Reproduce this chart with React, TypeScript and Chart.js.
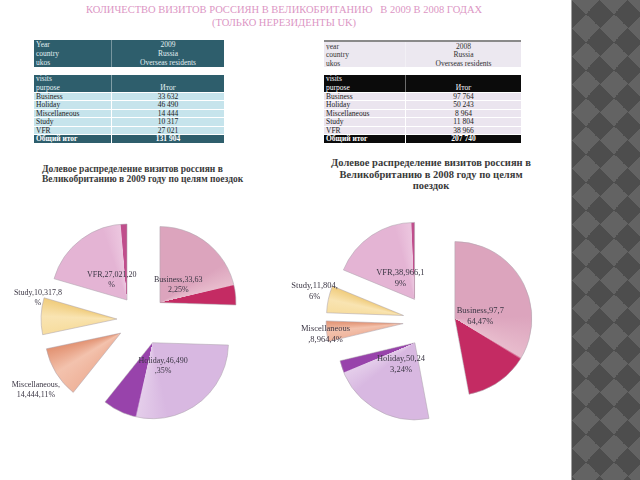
import React, { useEffect, useRef } from 'react';
import { Chart, registerables } from 'chart.js';

Chart.register(...registerables);

const categories = ['Business', 'Holiday', 'Miscellaneous', 'Study', 'VFR'];
const visits2009 = [33632, 46490, 14444, 10317, 27021];
const visits2008 = [97764, 50243, 8964, 11804, 38966];
const total2009 = '131 904';
const total2008 = '207 740';
const wrap2009 = [14, 14, 14, 14, 13];
const wrap2008 = [13, 13, 13, 13, 12];

const lightColors = ['#dca4bd', '#d8b8e1', '#efb49c', '#f7dd9f', '#e4b4d4'];
const highColors = ['#e8bccd', '#e4cdea', '#f3c2ad', '#f9e4b2', '#ecc6df'];
const darkColors = ['#c42b63', '#9843ab', '#e29272', '#f0cc7c', '#c04e8c'];
const darkStart2009 = [0.84, 0.8, 1, 1, 0.94];
const darkStart2008 = [0.72, 0.9, 1, 1, 0.97];
const labelFactor2009 = [0, 0, 1.64, 1.37, 0];
const labelNudge2009 = [0, 0, 5, -18, 0];
const labelFactor2008 = [0, 0, 1.35, 1.52, 0];
const labelNudge2008 = [0, 0, 3, -5, 0];

const fmt = (n: number) => String(n).replace(/\B(?=(\d{3})+(?!\d))/g, ' ');

function sliceFill(values: number[], darkStart: number[], offset: number) {
  return (ctx: any) => {
    const i = ctx.dataIndex;
    const chart = ctx.chart;
    const area = chart.chartArea;
    const c2d = chart.ctx;
    if (!area || i == null || typeof c2d.createConicGradient !== 'function') return lightColors[i ?? 0];
    const total = values.reduce((a, b) => a + b, 0);
    let cum = 0;
    for (let k = 0; k < i; k++) cum += values[k];
    const f = values[i] / total;
    const start = -Math.PI / 2 + (2 * Math.PI * cum) / total;
    const mid = start + Math.PI * f;
    const cx = (area.left + area.right) / 2 + Math.cos(mid) * offset;
    const cy = (area.top + area.bottom) / 2 + Math.sin(mid) * offset;
    const g = c2d.createConicGradient(start, cx, cy);
    const ds = darkStart[i];
    g.addColorStop(0, lightColors[i]);
    if (ds < 1) {
      g.addColorStop(f * (ds - 0.2), lightColors[i]);
      g.addColorStop(f * (ds - 0.01), highColors[i]);
      g.addColorStop(f * ds, darkColors[i]);
      g.addColorStop(f, darkColors[i]);
    } else {
      g.addColorStop(f * 0.5, highColors[i]);
      g.addColorStop(f, darkColors[i]);
    }
    g.addColorStop(Math.min(1, f + 0.0005), lightColors[i]);
    g.addColorStop(1, lightColors[i]);
    return g;
  };
}

// Explodes each slice outward along its mid angle by `offset` px (keeps radius unchanged)
function makeExplodePlugin(offset: number) {
  return {
    id: 'explode',
    afterDatasetUpdate(chart: any, args: any) {
      const meta = chart.getDatasetMeta(args.index);
      meta.data.forEach((arc: any) => {
        const mid = (arc.startAngle + arc.endAngle) / 2;
        arc.x += Math.cos(mid) * offset;
        arc.y += Math.sin(mid) * offset;
      });
    },
  };
}

function makeLabelPlugin(wrap: number[], factor: number[], nudge: number[], offset: number, size: number) {
  return {
    id: 'sliceLabels',
    afterDatasetsDraw(chart: any) {
      const ctx = chart.ctx;
      const meta = chart.getDatasetMeta(0);
      const values: number[] = chart.data.datasets[0].data;
      const total = values.reduce((a, b) => a + b, 0);
      ctx.save();
      ctx.font = `${size}px "Liberation Serif"`;
      ctx.fillStyle = '#3b3644';
      ctx.textAlign = 'center';
      ctx.textBaseline = 'middle';
      meta.data.forEach((arc: any, i: number) => {
        const p = arc.getProps(['x', 'y', 'startAngle', 'endAngle', 'outerRadius'], true);
        const mid = (p.startAngle + p.endAngle) / 2;
        const dist = factor[i] ? factor[i] * p.outerRadius - offset : (p.outerRadius - offset) / 2;
        const x = p.x + Math.cos(mid) * dist;
        const y = p.y + Math.sin(mid) * dist + nudge[i];
        const pct = Math.round((values[i] / total) * 100);
        const text = `${chart.data.labels[i]},${values[i].toLocaleString('en-US')},${pct}%`;
        const lines = [text.slice(0, wrap[i]), text.slice(wrap[i])];
        lines.forEach((ln, k) => ctx.fillText(ln, x, y + (k - 0.5) * (size + 2)));
      });
      ctx.restore();
    },
  };
}

function PieChart(props: {
  values: number[];
  darkStart: number[];
  wrap: number[];
  factor: number[];
  nudge: number[];
  radius: number;
  offset: number;
  labelSize: number;
  left: number;
  top: number;
}) {
  const ref = useRef<HTMLCanvasElement>(null);
  useEffect(() => {
    if (!ref.current) return;
    const chart = new Chart(ref.current, {
      type: 'pie',
      data: {
        labels: categories,
        datasets: [
          {
            data: props.values,
            backgroundColor: sliceFill(props.values, props.darkStart, props.offset) as any,
            borderColor: 'rgba(175,165,175,0.55)',
            borderWidth: 1,
          },
        ],
      },
      options: {
        responsive: false,
        animation: false,
        events: [],
        radius: props.radius,
        layout: { padding: 0 },
        plugins: { legend: { display: false }, tooltip: { enabled: false }, title: { display: false } },
      } as any,
      plugins: [
        makeExplodePlugin(props.offset),
        makeLabelPlugin(props.wrap, props.factor, props.nudge, props.offset, props.labelSize),
      ],
    });
    return () => chart.destroy();
  }, []);
  return (
    <canvas
      ref={ref}
      width={280}
      height={230}
      style={{ position: 'absolute', left: props.left, top: props.top, width: 280, height: 230 }}
    />
  );
}

const cellBase: React.CSSProperties = {
  fontFamily: '"Liberation Serif", serif',
  fontSize: 7.5,
  whiteSpace: 'nowrap',
  overflow: 'hidden',
};

function DataTable(props: {
  left: number;
  width: number;
  split: number;
  headerRows: [string, string][];
  headBg: string;
  headColor: string;
  blockBg: string;
  blockColor: string;
  rowBg: string;
  values: number[];
  total: string;
  topLine?: string;
}) {
  const rightW = props.width - props.split;
  const row = (l: React.ReactNode, r: React.ReactNode, h: number, bg: string, color: string, bold = false, key?: any, sep = 'white') => (
    <div key={key} style={{ display: 'flex', height: h, background: bg, color, fontWeight: bold ? 'bold' : 'normal', borderTop: `1px solid ${sep}`, boxSizing: 'border-box' }}>
      <div style={{ ...cellBase, width: props.split, paddingLeft: 2, lineHeight: `${h - 1}px`, boxSizing: 'border-box' }}>{l}</div>
      <div style={{ ...cellBase, width: rightW, textAlign: 'center', lineHeight: `${h - 1}px`, borderLeft: `1px solid ${sep}`, boxSizing: 'border-box' }}>{r}</div>
    </div>
  );
  return (
    <>
      <div style={{ position: 'absolute', left: props.left, top: 40, width: props.width, height: 27, background: props.headBg, borderTop: props.topLine ? `2px solid ${props.topLine}` : 'none', boxSizing: 'border-box' }}>
        {props.headerRows.map((r, i) => (
          <div key={i} style={{ display: 'flex', height: props.topLine ? 8.3 : 9, color: props.headColor }}>
            <div style={{ ...cellBase, width: props.split, paddingLeft: 2, lineHeight: '9px', boxSizing: 'border-box' }}>{r[0]}</div>
            <div style={{ ...cellBase, width: rightW, textAlign: 'center', lineHeight: '9px', borderLeft: '1px solid rgba(255,255,255,0.35)', boxSizing: 'border-box' }}>{r[1]}</div>
          </div>
        ))}
      </div>
      <div style={{ position: 'absolute', left: props.left, top: 75, width: props.width }}>
        <div style={{ display: 'flex', height: 17, background: props.blockBg, color: props.blockColor }}>
          <div style={{ ...cellBase, width: props.split, paddingLeft: 2, lineHeight: '8.5px', boxSizing: 'border-box' }}>
            visits
            <br />
            purpose
          </div>
          <div style={{ ...cellBase, width: rightW, textAlign: 'center', paddingTop: 8.5, lineHeight: '8.5px', borderLeft: '1px solid rgba(255,255,255,0.4)', boxSizing: 'border-box' }}>Итог</div>
        </div>
        {categories.map((c, i) => row(c, fmt(props.values[i]), 8.4, props.rowBg, '#222', false, i))}
        {row('Общий итог', props.total, 9, props.blockBg, '#fff', true, 'tot')}
      </div>
    </>
  );
}

export default function App() {
  return (
    <div style={{ position: 'fixed', left: 0, top: 0, width: 640, height: 480, background: '#fff', overflow: 'hidden', fontFamily: '"Liberation Serif", serif' }}>
      <div style={{ position: 'absolute', left: 0, top: 3, width: 568, textAlign: 'center', color: '#dc96c4', fontSize: 10.5, lineHeight: '13px' }}>
        КОЛИЧЕСТВО ВИЗИТОВ РОССИЯН В ВЕЛИКОБРИТАНИЮ&nbsp;&nbsp; В 2009 В 2008 ГОДАХ
        <br />
        (ТОЛЬКО НЕРЕЗИДЕНТЫ UK)
      </div>

      <DataTable
        left={34}
        width={190}
        split={77}
        headerRows={[['Year', '2009'], ['country', 'Russia'], ['ukos', 'Overseas residents']]}
        headBg="#2e5e6c"
        headColor="#e2f0f2"
        blockBg="#2e5e6c"
        blockColor="#e8f4f6"
        rowBg="#c6e4ec"
        values={visits2009}
        total={total2009}
      />
      <DataTable
        left={324}
        width={197}
        split={81}
        headerRows={[['year', '2008'], ['country', 'Russia'], ['ukos', 'Overseas residents']]}
        headBg="#ece8f0"
        headColor="#333"
        blockBg="#0b0b0b"
        blockColor="#fff"
        rowBg="#ebe5ef"
        values={visits2008}
        total={total2008}
        topLine="#8a8a8a"
      />

      <div style={{ position: 'absolute', left: 42, top: 164, fontSize: 9.5, lineHeight: '10px', fontWeight: 'bold', color: '#3a3a3a', whiteSpace: 'nowrap' }}>
        Долевое распределение визитов россиян в
        <br />
        Великобританию в 2009 году по целям поездок
      </div>
      <div style={{ position: 'absolute', left: 316, width: 230, top: 157, fontSize: 10.5, lineHeight: '11.5px', fontWeight: 'bold', color: '#3a3a3a', textAlign: 'center', whiteSpace: 'nowrap' }}>
        Долевое распределение визитов россиян в
        <br />
        Великобританию в 2008 году по целям
        <br />
        поездок
      </div>

      <PieChart values={visits2009} darkStart={darkStart2009} wrap={wrap2009} factor={labelFactor2009} nudge={labelNudge2009} radius={76} offset={25} labelSize={8} left={2} top={205} />
      <PieChart values={visits2008} darkStart={darkStart2008} wrap={wrap2008} factor={labelFactor2008} nudge={labelNudge2008} radius={77} offset={26} labelSize={8.5} left={289} top={206} />

      <div
        style={{
          position: 'absolute',
          left: 571,
          top: 0,
          width: 69,
          height: 480,
          borderLeft: '1px solid #a0a0a0',
          backgroundColor: '#5c5c5c',
          backgroundImage: 'repeating-conic-gradient(from 45deg, #4d4d4d 0 25%, #636363 0 50%)',
          backgroundSize: '28px 28px',
        }}
      />
    </div>
  );
}
